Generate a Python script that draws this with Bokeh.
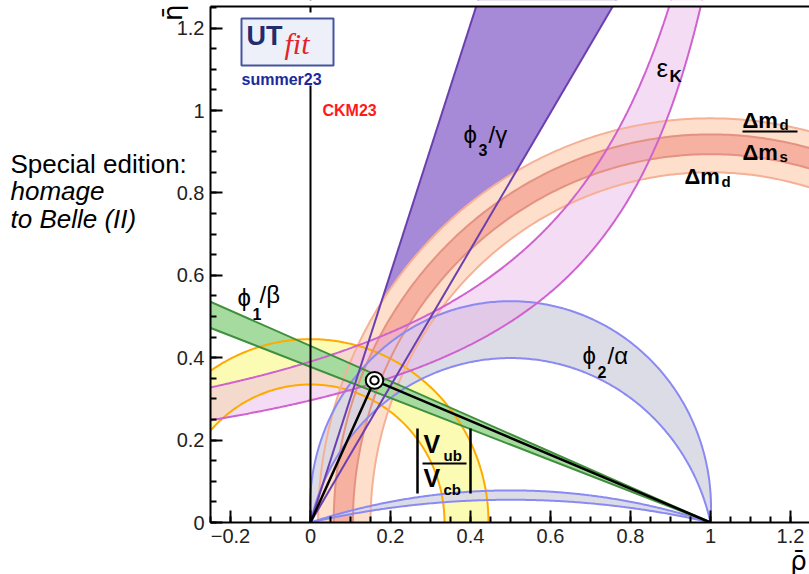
import numpy as np
from bokeh.plotting import figure
from bokeh.models import Label, FixedTicker, Range1d
from bokeh.embed import file_html
from bokeh.resources import INLINE

# ---------------- data ----------------
X_TICKS = [-0.2, 0.0, 0.2, 0.4, 0.6, 0.8, 1.0, 1.2]
X_TICK_LABELS = ["\u22120.2", "0", "0.2", "0.4", "0.6", "0.8", "1", "1.2"]
Y_TICKS = [0.0, 0.2, 0.4, 0.6, 0.8, 1.0, 1.2]
Y_TICK_LABELS = ["0", "0.2", "0.4", "0.6", "0.8", "1", "1.2"]

APEX_RHO = 0.160
APEX_ETA = 0.345
GAMMA_DEG = [58.9, 71.7]                     # phi3/gamma, wedge from (0,0)
BETA_DEG = [20.7, 23.2]                      # phi1/beta, wedge from (1,0)
ALPHA_DEG = [[85.9, 102.8], [162.3, 167.4]]  # phi2/alpha, two solutions
VUB_R = [0.335, 0.445]                       # |Vub/Vcb|, annulus around (0,0)
DMD_R = [0.850, 0.981]                       # dmd, annulus around (1,0)
DMS_R = [0.894, 0.942]                       # dmd/dms, annulus around (1,0)
EPSK_PIVOT = [1.278, 1.303]                  # eps_K edges: eta*(pivot-rho)=c
EPSK_C = [0.379, 0.509]
RHO_MIN = -0.25                              # left edge of the plotted region
ETA_MIN = 0.0


# pixel <-> data helpers for the 809x574 canvas (x=0 at px 310, y=0 at px 522)
def X(px):
    return (px - 310) / 400.0


def Y(py):
    return (522 - py) / 412.0


W, H = 809, 574
p = figure(width=W, height=H, output_backend="svg", toolbar_location=None,
           x_range=Range1d(X(0), X(W)), y_range=Range1d(Y(H), Y(0)),
           min_border_left=0, min_border_right=0, min_border_top=0,
           min_border_bottom=0)
p.xgrid.visible = False
p.ygrid.visible = False
p.outline_line_color = None
p.background_fill_color = "white"
p.border_fill_color = "white"

TOP_Y = Y(6)
RIGHT_X = X(W)

x_minor = [round(v, 3) for v in np.arange(-0.25, 1.2501, 0.05)]
y_minor = [round(v, 3) for v in np.arange(0.0, 1.2501, 0.05)]
for ax, ticks, labels, mticks in ((p.xaxis, X_TICKS, X_TICK_LABELS, x_minor),
                                  (p.yaxis, Y_TICKS, Y_TICK_LABELS, y_minor)):
    ax.ticker = FixedTicker(ticks=ticks, minor_ticks=mticks)
    ax.major_label_overrides = {t: l for t, l in zip(ticks, labels)}
    ax.axis_line_color = "black"
    ax.axis_line_width = 2
    ax.major_tick_line_color = "black"
    ax.major_tick_line_width = 2
    ax.minor_tick_line_color = "black"
    ax.minor_tick_line_width = 2
    ax.major_tick_in = 12
    ax.major_tick_out = 0
    ax.minor_tick_in = 6
    ax.minor_tick_out = 0
    ax.major_label_text_font = "Liberation Sans"
    ax.major_label_text_font_size = "20px"
    ax.major_label_text_color = "#222222"
    ax.major_label_standoff = 6
p.xaxis.fixed_location = ETA_MIN
p.yaxis.fixed_location = RHO_MIN
p.xaxis.bounds = (RHO_MIN, RIGHT_X)
p.yaxis.bounds = (ETA_MIN, TOP_Y)


def arc(cx, cy, r, a0, a1, n=300):
    t = np.linspace(a0, a1, n)
    return cx + r * np.cos(t), cy + r * np.sin(t)


def annulus(cx, r_in, r_out):
    xo, yo = arc(cx, 0.0, r_out, 0.0, np.pi)
    xi, yi = arc(cx, 0.0, r_in, np.pi, 0.0)
    return np.concatenate([xo, xi]), np.concatenate([yo, yi])


def alpha_arc(a_deg, n=300):
    a = np.radians(a_deg)
    r = 0.5 / np.sin(a)
    k = 0.5 / np.tan(a)
    th0 = np.arctan2(-k, 0.5)
    return arc(0.5, k, r, th0, np.pi - th0, n)


def epsk_curve(pivot, c, n=400):
    x_end = pivot - c / 1.4
    x = np.linspace(-0.4, x_end, n)
    return x, c / (pivot - x)


TOP = 1.4
# ---- gamma wedge fill
g_lo, g_hi = np.radians(GAMMA_DEG)
p.patch([0, TOP / np.tan(g_hi), TOP / np.tan(g_lo)], [0, TOP, TOP],
        fill_color="#a68ad8", line_color=None)

# ---- |Vub/Vcb|
vx, vy = annulus(0.0, VUB_R[0], VUB_R[1])
p.patch(vx, vy, fill_color="#fbfbb4", line_color=None)

# ---- dmd and dmd/dms
dx, dy = annulus(1.0, DMD_R[0], DMD_R[1])
p.patch(dx, dy, fill_color="#fddfcc", line_color=None)
sx, sy = annulus(1.0, DMS_R[0], DMS_R[1])
p.patch(sx, sy, fill_color="#f6b1a0", line_color=None)

# ---- alpha bands
for a_lo, a_hi in ALPHA_DEG:
    ux, uy = alpha_arc(a_lo)
    lx, ly = alpha_arc(a_hi)
    p.patch(np.concatenate([ux, lx[::-1]]), np.concatenate([uy, ly[::-1]]),
            fill_color="#d8d8e4", fill_alpha=0.9, line_color=None)

# ---- eps_K
ex1, ey1 = epsk_curve(EPSK_PIVOT[1], EPSK_C[1])
ex0, ey0 = epsk_curve(EPSK_PIVOT[0], EPSK_C[0])
p.patch(np.concatenate([ex1, ex0[::-1]]), np.concatenate([ey1, ey0[::-1]]),
        fill_color="#e8b2e8", fill_alpha=0.45, line_color=None)

# ---- beta
b_lo, b_hi = np.radians(BETA_DEG)
xl = -0.5
p.patch([1.0, xl, xl], [0.0, (1 - xl) * np.tan(b_hi), (1 - xl) * np.tan(b_lo)],
        fill_color="#a6dba0", line_color=None)

# ---------------- border lines ----------------
for r in VUB_R:
    x, y = arc(0.0, 0.0, r, 0.0, np.pi)
    p.line(x, y, line_color="#ffaa00", line_width=2)
for r in DMD_R:
    x, y = arc(1.0, 0.0, r, 0.0, np.pi)
    p.line(x, y, line_color="#f6b096", line_width=2)
for r in DMS_R:
    x, y = arc(1.0, 0.0, r, 0.0, np.pi)
    p.line(x, y, line_color="#e49282", line_width=2)
for a_lo, a_hi in ALPHA_DEG:
    for a in (a_lo, a_hi):
        x, y = alpha_arc(a)
        p.line(x, y, line_color="#8a8af2", line_width=2)
for pv, c in zip(EPSK_PIVOT, EPSK_C):
    x, y = epsk_curve(pv, c)
    p.line(x, y, line_color="#cf62cf", line_width=2)
for b in (b_lo, b_hi):
    p.line([1.0, xl], [0.0, (1 - xl) * np.tan(b)], line_color="#3f8f3c", line_width=2)
for g in (g_lo, g_hi):
    p.line([0.0, TOP / np.tan(g)], [0.0, TOP], line_color="#6b3fae", line_width=2)

# ---------------- unitarity triangle & apex ----------------
p.line([0.0, 0.0], [0.0, TOP], line_color="black", line_width=2)
p.line([0.0, APEX_RHO, 1.0], [0.0, APEX_ETA, 0.0], line_color="black", line_width=2.5)
p.ellipse([APEX_RHO], [APEX_ETA], width=0.044, height=0.041, fill_color="white",
          line_color="black", line_width=2)
p.ellipse([APEX_RHO], [APEX_ETA], width=0.021, height=0.020, fill_color="white",
          line_color="black", line_width=2)

# ---------------- white masks outside the plotted region ----------------
BIG = 5.0
p.quad(left=[-BIG], right=[RHO_MIN], bottom=[-BIG], top=[BIG], fill_color="white", line_color=None)
p.quad(left=[-BIG], right=[BIG], bottom=[-BIG], top=[ETA_MIN], fill_color="white", line_color=None)
p.quad(left=[-BIG], right=[BIG], bottom=[TOP_Y], top=[BIG], fill_color="white", line_color=None)
# top edge of the frame
p.line([RHO_MIN, RIGHT_X], [TOP_Y, TOP_Y], line_color="black", line_width=2)


# ---------------- texts ----------------
def lbl(px, py, text, size, color="black", style="normal", font="Liberation Sans",
        align="left", baseline="middle", angle=0.0):
    p.add_layout(Label(x=X(px), y=Y(py), text=text, text_font_size=f"{size}px",
                       text_color=color, text_font_style=style, text_font=font,
                       text_align=align, text_baseline=baseline, angle=angle))


PHI = "\u03d5"
# logo area (white patch hides the x=0 line)
p.quad(left=[X(236)], right=[X(338)], top=[Y(12)], bottom=[Y(85)],
       fill_color="white", line_color=None)
p.quad(left=[X(241)], right=[X(333)], top=[Y(18)], bottom=[Y(65)],
       fill_color="#eef0f9", line_color="#44549e", line_width=2)
lbl(246, 35, "UT", 27, color="#232c6c", style="bold")
lbl(284, 43, "fit", 30, color="#e0242a", style="italic", font="Liberation Serif")
lbl(241, 79, "summer23", 16, color="#1b2a9c", style="bold")
lbl(322, 110, "CKM23", 16, color="#ff1a1a", style="bold")

# phi3/gamma
lbl(463, 134, PHI, 24)
lbl(478, 149, "3", 16, style="bold")
lbl(488, 134, "/\u03b3", 24)
# eps_K
lbl(656, 67, "\u03b5", 26)
lbl(669, 76, "K", 17, style="bold")
# dmd/dms
lbl(742, 120, "\u0394m", 22, style="bold", baseline="alphabetic")
lbl(779, 124, "d", 15, style="bold", baseline="alphabetic")
p.line([X(742), X(797)], [Y(131), Y(131)], line_color="black", line_width=2)
lbl(742, 152, "\u0394m", 22, style="bold", baseline="alphabetic")
lbl(779, 156, "s", 15, style="bold", baseline="alphabetic")
# dmd
lbl(684, 176, "\u0394m", 22, style="bold", baseline="alphabetic")
lbl(721, 181, "d", 15, style="bold", baseline="alphabetic")
# phi2/alpha
lbl(582, 355, PHI, 24)
lbl(597, 371, "2", 16, style="bold")
lbl(607, 355, "/\u03b1", 24)
# phi1/beta
lbl(237, 297, PHI, 24)
lbl(252, 313, "1", 16, style="bold")
lbl(259, 294, "/\u03b2", 24)
# |Vub/Vcb|
p.line([X(417), X(417)], [Y(428), Y(493)], line_color="black", line_width=2.5)
p.line([X(470), X(470)], [Y(428), Y(493)], line_color="black", line_width=2.5)
p.line([X(422), X(466)], [Y(463), Y(463)], line_color="black", line_width=2)
lbl(423, 443, "V", 25, style="bold")
lbl(443, 455, "ub", 15, style="bold")
lbl(423, 477, "V", 25, style="bold")
lbl(443, 489, "cb", 15, style="bold")

# left text
lbl(10, 163, "Special edition:", 26, baseline="alphabetic")
lbl(10, 190, "homage", 26, style="italic", baseline="alphabetic")
lbl(10, 218, "to Belle (II)", 26, style="italic", baseline="alphabetic")

# axis titles
lbl(798, 545, "\u03c1\u0304", 26, align="center", baseline="top", font="DejaVu Sans")
lbl(172, 4, "\u03b7\u0304", 26, align="right", angle=np.pi / 2, font="DejaVu Sans")

open("out.html", "w").write(file_html(p, INLINE))
